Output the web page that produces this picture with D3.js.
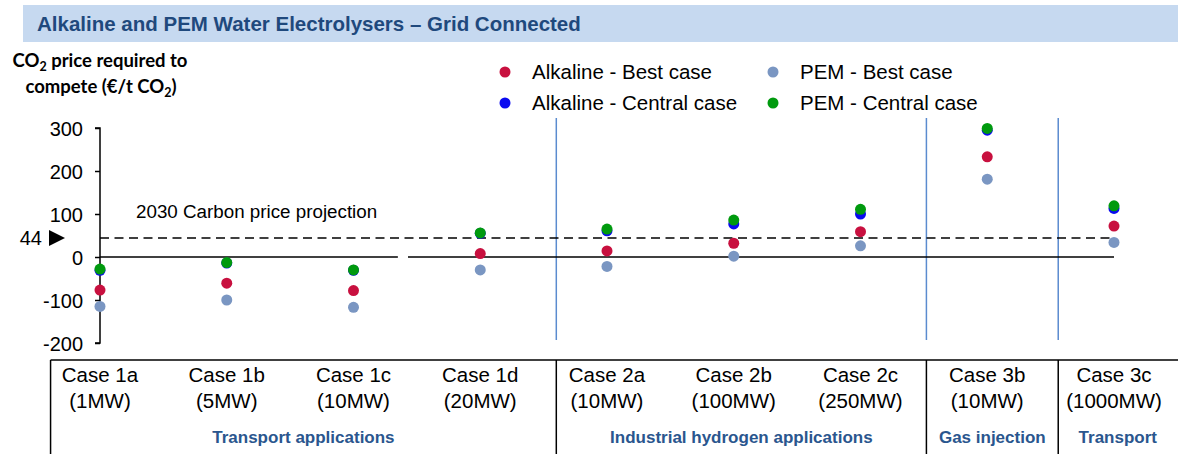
<!DOCTYPE html>
<html>
<head>
<meta charset="utf-8">
<script src="https://cdn.jsdelivr.net/npm/d3@7"></script>
<style>
  body { margin: 0; background: #fff; }
  svg { display: block; font-family: "Liberation Sans", Arial, sans-serif; }
</style>
</head>
<body>
<svg id="chart" width="1178" height="454"></svg>
<script>
// data ----------------------------------
const cases = ['Case 1a', 'Case 1b', 'Case 1c', 'Case 1d', 'Case 2a', 'Case 2b', 'Case 2c', 'Case 3b', 'Case 3c'];
const capacities = ['(1MW)', '(5MW)', '(10MW)', '(20MW)', '(10MW)', '(100MW)', '(250MW)', '(10MW)', '(1000MW)'];
const alkalineBest = [-77, -61, -78, 8, 14, 32, 59, 233, 72];
const alkalineCentral = [-31, -14, -31, 55, 61, 77, 100, 295, 113];
const pemBest = [-115, -100, -117, -30, -22, 2, 26, 181, 34];
const pemCentral = [-28, -13, -30, 56, 65, 86, 111, 299, 119];
const yTicks = [-200, -100, 0, 100, 200, 300];
const carbonPrice = 44;
const groupNames = ['Transport applications', 'Industrial hydrogen applications', 'Gas injection', 'Transport'];
// group edges in case-index units (table left, dividers, table right)
const groupEdges = [-0.39, 3.6, 6.52, 7.56, 8.5];
const zeroGap = [2.35, 2.43];

const series = [
  { name: 'Alkaline - Best case', values: alkalineBest, color: '#C8103F' },
  { name: 'PEM - Best case', values: pemBest, color: '#7A96C2' },
  { name: 'Alkaline - Central case', values: alkalineCentral, color: '#0A0AF0' },
  { name: 'PEM - Central case', values: pemCentral, color: '#009A0E' }
];
// ---------------------------------------

const svg = d3.select('#chart');
const yTop = 128, yBottom = 343;

const x = d3.scalePoint().domain(cases).range([100, 1114]);
const xi = d3.scaleLinear().domain([0, cases.length - 1]).range([100, 1114]);
const y = d3.scaleLinear().domain([-200, 300]).range([yBottom, yTop]);

// title bar
svg.append('rect').attr('x', 23).attr('y', 5).attr('width', 1155).attr('height', 37).attr('fill', '#C6D9F0');
svg.append('text').attr('x', 37).attr('y', 31)
  .attr('font-size', 20.5).attr('font-weight', 'bold').attr('fill', '#1F497D')
  .text('Alkaline and PEM Water Electrolysers \u2013 Grid Connected');

// y axis title
const yTitle = svg.append('text').attr('text-anchor', 'middle')
  .attr('font-family', 'Lato, "Open Sans", sans-serif').attr('font-weight', 'bold').attr('font-size', 18.5).attr('fill', '#000');
const l1 = yTitle.append('tspan').attr('x', 100).attr('y', 67);
l1.append('tspan').text('CO');
l1.append('tspan').attr('font-size', 12.5).attr('dy', 4).text('2');
l1.append('tspan').attr('dy', -4).text(' price required to');
const l2 = yTitle.append('tspan').attr('x', 101).attr('y', 93);
l2.append('tspan').text('compete (\u20AC/t CO');
l2.append('tspan').attr('font-size', 12.5).attr('dy', 4).text('2');
l2.append('tspan').attr('dy', -4).text(')');

// legend
const legend = svg.append('g').attr('font-size', 20.5);
const legendPos = [[505, 72], [773, 72], [505, 103], [773, 103]];
series.forEach((s, i) => {
  const [lx, ly] = legendPos[i];
  legend.append('circle').attr('cx', lx).attr('cy', ly).attr('r', 5.5).attr('fill', s.color);
  legend.append('text').attr('x', lx + 27).attr('y', ly + 7).text(s.name);
});

// y axis
const yAxis = svg.append('g').attr('transform', 'translate(100,0)')
  .call(d3.axisLeft(y).tickValues(yTicks).tickSize(5).tickPadding(12).tickFormat(d => String(d)));
yAxis.select('.domain').attr('stroke', '#000').attr('stroke-width', 1.5).attr('d', 'M-5,' + yTop + 'H0V' + yBottom + 'H-5');
yAxis.selectAll('.tick line').attr('stroke', '#000').attr('stroke-width', 1.5);
yAxis.selectAll('.tick text').attr('font-size', 20).attr('font-family', '"Liberation Sans", Arial, sans-serif').attr('fill', '#000').attr('dy', '0.35em');

// group divider lines (blue)
svg.selectAll('line.divider').data(groupEdges.slice(1, 4)).enter().append('line')
  .attr('class', 'divider')
  .attr('x1', d => xi(d)).attr('x2', d => xi(d))
  .attr('y1', 118).attr('y2', 340)
  .attr('stroke', '#5B8BCF').attr('stroke-width', 1.5);

// zero line, with a small break
const x0 = x(cases[0]), x1 = x(cases[cases.length - 1]);
svg.append('line').attr('x1', x0).attr('x2', xi(zeroGap[0])).attr('y1', y(0)).attr('y2', y(0))
  .attr('stroke', '#000').attr('stroke-width', 1.5);
svg.append('line').attr('x1', xi(zeroGap[1])).attr('x2', x1).attr('y1', y(0)).attr('y2', y(0))
  .attr('stroke', '#000').attr('stroke-width', 1.5);

// carbon price projection
svg.append('line').attr('x1', x0).attr('x2', x1).attr('y1', y(carbonPrice)).attr('y2', y(carbonPrice))
  .attr('stroke', '#000').attr('stroke-width', 1.5).attr('stroke-dasharray', '9,5.5');
svg.append('text').attr('x', 136).attr('y', 218).attr('font-size', 18.8).text('2030 Carbon price projection');
svg.append('text').attr('x', 42).attr('y', y(carbonPrice) + 7).attr('text-anchor', 'end').attr('font-size', 20).text(carbonPrice);
svg.append('path')
  .attr('d', 'M49,' + (y(carbonPrice) - 8) + 'L65,' + y(carbonPrice) + 'L49,' + (y(carbonPrice) + 8) + 'Z')
  .attr('fill', '#000');

// points
series.forEach(s => {
  svg.append('g').selectAll('circle').data(s.values).enter().append('circle')
    .attr('cx', (d, i) => x(cases[i]))
    .attr('cy', d => y(d))
    .attr('r', 5.5)
    .attr('fill', s.color);
});

// category table
const tableTop = 360;
const table = svg.append('g');
table.append('line').attr('x1', xi(groupEdges[0])).attr('x2', 1178).attr('y1', tableTop).attr('y2', tableTop)
  .attr('stroke', '#000').attr('stroke-width', 1.5);
table.selectAll('line.edge').data(groupEdges.slice(0, 4)).enter().append('line')
  .attr('class', 'edge')
  .attr('x1', d => xi(d)).attr('x2', d => xi(d))
  .attr('y1', tableTop).attr('y2', 454)
  .attr('stroke', '#000').attr('stroke-width', 1.5);
table.selectAll('text.case').data(cases).enter().append('text')
  .attr('class', 'case').attr('text-anchor', 'middle').attr('font-size', 20.5)
  .attr('x', d => x(d)).attr('y', 382).text(d => d);
table.selectAll('text.cap').data(capacities).enter().append('text')
  .attr('class', 'cap').attr('text-anchor', 'middle').attr('font-size', 20.5)
  .attr('x', (d, i) => x(cases[i])).attr('y', 408).text(d => d);
table.selectAll('text.group').data(groupNames).enter().append('text')
  .attr('class', 'group').attr('text-anchor', 'middle').attr('font-size', 17)
  .attr('font-weight', 'bold').attr('fill', '#2A568E')
  .attr('x', (d, i) => (xi(groupEdges[i]) + xi(groupEdges[i + 1])) / 2)
  .attr('y', 443).text(d => d);
</script>
</body>
</html>
